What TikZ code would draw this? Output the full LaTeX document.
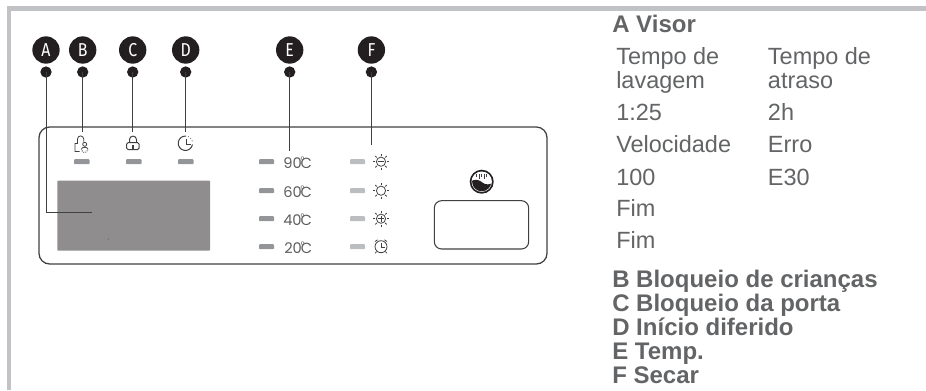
\documentclass[tikz,border=0pt]{standalone}
\usepackage{fontspec}
\setmainfont{Liberation Sans}
\newfontfamily\markfont[FakeStretch=0.85]{Fira Sans}
\newfontfamily\tempfont{Poppins}
\definecolor{barc}{HTML}{C1C2C5}
\definecolor{txtc}{HTML}{636466}
\definecolor{inkc}{HTML}{231F20}
\definecolor{panelc}{HTML}{404041}
\definecolor{dispc}{HTML}{8F8D8E}
\definecolor{leddark}{HTML}{939598}
\definecolor{ledlight}{HTML}{BCBDC0}
\tikzset{
  x=0.75pt,y=-0.75pt,
  badge/.style={circle,fill=inkc,text=white,minimum size=20.5pt,inner sep=0pt,font=\markfont\fontsize{14}{14}\selectfont},
  pin/.style={circle,fill=inkc,minimum size=8.5pt,inner sep=0pt},
  leader/.style={draw=panelc,line width=0.75pt},
  ledd/.style={fill=leddark,rounded corners=0.6pt},
  ledl/.style={fill=ledlight,rounded corners=0.6pt},
  tlabel/.style={anchor=base west,inner sep=0pt,text=panelc!85!white,font=\tempfont\fontsize{11}{12}\selectfont},
  body/.style={anchor=base west,inner sep=0pt,text=txtc,font=\fontsize{17.6}{18}\selectfont},
  head/.style={anchor=base west,inner sep=0pt,text=txtc,font=\bfseries\fontsize{18}{18}\selectfont},
  icon/.style={draw=panelc,line width=0.6pt},
}
\newcommand{\tdeg}[1]{#1\kern-0.8pt\rlap{\raisebox{3.4pt}{\fontsize{7}{7}\selectfont °}}C}
\newcommand{\sunrays}[1]{%
  \foreach \a in {0,45,...,315}{\draw[icon,line width=0.7pt] (#1)+(\a:6) -- +(\a:8);}%
  \draw[icon] (#1) circle (4.6);}
\begin{document}
\begin{tikzpicture}
\useasboundingbox (0,0) rectangle (926,390);
% frame
\fill[barc] (7,6) rectangle (926,11);
\fill[barc] (7,6) rectangle (11,390);
% panel
\draw[draw=panelc,line width=0.95pt,rounded corners=8pt] (39,127) rectangle (547,264);
% display
\node[name=disp,fill=dispc,minimum width=114.5pt,minimum height=52.5pt,inner sep=0pt,rounded corners=0.6pt] at (133.7,215.7) {};
\fill[panelc!70!dispc] (108.3,239) circle (0.6);
% window
\draw[draw=panelc,line width=0.8pt,rounded corners=5.5pt] (434.3,200.7) rectangle (528.7,249);
% badges
\foreach \n/\t/\x in {a/A/46,b/B/82.7,c/C/132.7,d/D/185.7,e/E/289.7,f/F/371.4}{
  \node[badge] (\n) at (\x,50) {\t};
  \node[pin] (p\n) at (\x,72) {};
}
% leaders
\coordinate (ea) at (91.7,212.3);
\coordinate (eb) at (82.7,132);
\coordinate (ec) at (132.7,132);
\coordinate (ed) at (185.7,132);
\coordinate (ee) at (289.7,150.7);
\coordinate (ef) at (371.4,145);
\draw[leader] (pa.center) -- (46,212.3) -- (ea);
\draw[leader] (pb.center) -- (eb);
\draw[leader] (pc.center) -- (ec);
\draw[leader] (pd.center) -- (ed);
\draw[leader] (pe.center) -- (ee);
\draw[leader] (pf.center) -- (ef);
% top LEDs
\foreach \x in {74,126,178}{\fill[ledd] (\x,159.2) rectangle ++(15.5,5);}
% temp LEDs and labels
\foreach \y/\t/\lx in {161.7/90/283,190.7/60/283,218.7/40/283,246.7/20/284}{
  \fill[ledd] (259,\y-2.5) rectangle ++(15,5);
  \node[tlabel] at (\lx,\y+6.5) {\tdeg{\t}};
  \fill[ledl] (350,\y-2.5) rectangle ++(15,5);
}
% B icon: child lock
\draw[icon] (79.5,151.5) -- (75,151.5) -- (75,143.5) -- (77.5,143.5) -- (77.5,139) arc (180:360:3.1) -- (83.7,141.5);
\draw[icon] (84.7,144.3) circle (2);
\draw[icon] (81.3,149.5) .. controls (81.3,146.5) and (88,146.5) .. (88,149.5);
\draw[icon,dash pattern=on 0.8pt off 0.8pt] (81.8,150.5) arc (160:20:3);
% C icon: lock
\draw[icon,line width=0.75pt,rounded corners=1pt] (126.7,142.7) rectangle (139,149.5);
\draw[icon,line width=0.75pt] (129.5,142.7) -- (129.5,139.6) arc (180:360:3.5) -- (136.5,142.7);
\fill[panelc] (132.2,145) rectangle (134.4,149.5);
% D icon: clock
\draw[icon,line width=0.75pt] (192.5,144.5) arc (10:275:7.2);
\draw[icon,line width=0.75pt] (186.2,138.5) -- (186.2,144) -- (190.5,144);
\foreach \a in {-65,-42,-20}{\fill[panelc] (185.3,143.3)+(\a:7.3) circle (0.55);}
% F icons
\sunrays{381,161.7}
\draw[icon] (377.8,161.7) -- (384.2,161.7);
\sunrays{381,190.7}
\sunrays{381,218.7}
\draw[icon] (377.8,218.7) -- (384.2,218.7);
\draw[icon] (381,215.5) -- (381,221.9);
\draw[icon] (381,246.7) circle (6);
\draw[icon] (381,243) -- (381,247.2) -- (384.5,247.2);
\draw[icon] (375,241.5) -- (377.5,239.8);
\draw[icon] (387,241.5) -- (384.5,239.8);
\draw[icon] (376.5,251.5) -- (375.3,253.2);
\draw[icon] (385.5,251.5) -- (386.7,253.2);
% drum icon
\fill[inkc] (481.7,181.7) circle (12);
\fill[white] (481.7,181.7) circle (10.2);
\begin{scope}
\clip (481.7,181.7) circle (9.6);
\fill[inkc] (470,182) .. controls (475,178) and (480,180) .. (483,183) .. controls (486,185) and (490,185) .. (494,182) -- (494,196) -- (470,196) -- cycle;
\end{scope}
\foreach \x/\h in {476.7/3,479.2/4.5,481.7/3,484.2/4.5,486.7/3}{\draw[panelc,line width=0.35pt] (\x,174) -- ++(0,\h);}
% text
\node[head] at (612,32.7) {A Visor};
\node[body] at (616,64) {Tempo de};
\node[body] at (616,88) {lavagem};
\node[body] at (616,120.7) {1:25};
\node[body] at (616,152.7) {Velocidade};
\node[body] at (616,185) {100};
\node[body] at (616,216) {Fim};
\node[body] at (616,248.3) {Fim};
\node[body] at (767.7,64) {Tempo de};
\node[body] at (767.7,88) {atraso};
\node[body] at (767.7,120.7) {2h};
\node[body] at (767.7,152.7) {Erro};
\node[body] at (767.7,185) {E30};
\node[head] at (612,287.7) {B Bloqueio de crianças};
\node[head] at (612,311) {C Bloqueio da porta};
\node[head] at (612,335.5) {D Início diferido};
\node[head] at (612,359.5) {E Temp.};
\node[head] at (612,383) {F Secar};
\end{tikzpicture}
\end{document}
